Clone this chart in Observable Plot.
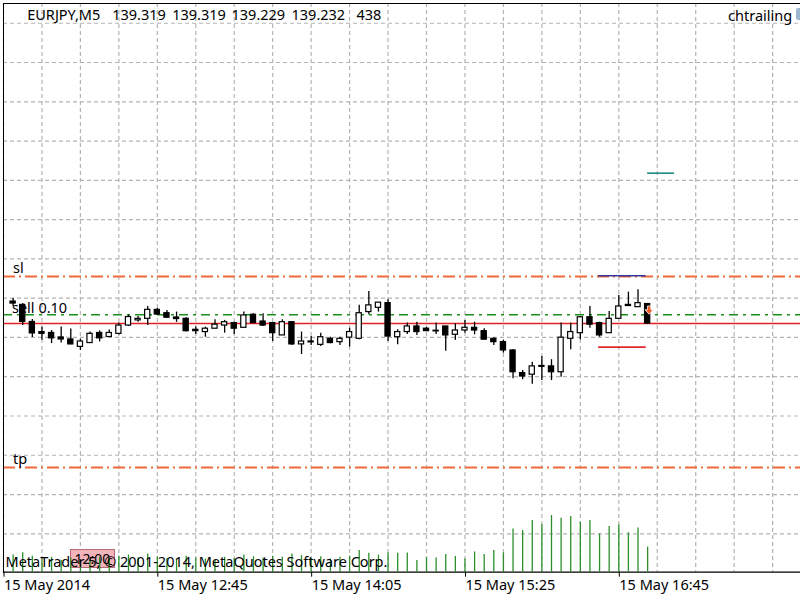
<!DOCTYPE html>
<html><head><meta charset="utf-8">
<script src="https://cdn.jsdelivr.net/npm/d3@7"></script>
<script src="https://cdn.jsdelivr.net/npm/@observablehq/plot@0.6"></script>
<style>
body{margin:0;background:#fff;}
#wrap{position:relative;width:800px;height:600px;overflow:hidden;font-family:"Noto Sans",sans-serif;}
#wrap svg{position:absolute;left:0;top:0;}
#lbl1200{position:absolute;left:70px;top:549px;width:43px;height:17px;background:#f3b3bb;border:1px solid #b86a74;font-size:14px;line-height:17px;text-align:center;color:#000;}
#icon{position:absolute;left:796px;top:8px;width:6px;height:12px;background:#9fb6d0;border-radius:2px;}
</style></head><body><div id="wrap"></div>
<script>
// ---- data ----
const symbol = "EURJPY", timeframe = "M5";
const lastBarText = ["139.319", "139.319", "139.229", "139.232", "438"];
const open = [139.330,139.315,139.239,139.194,139.190,139.170,139.161,139.128,139.145,139.190,
 139.172,139.186,139.223,139.246,139.253,139.293,139.278,139.259,139.253,139.204,
 139.194,139.209,139.223,139.234,139.213,139.271,139.241,139.234,139.179,139.238,
 139.139,139.152,139.137,139.164,139.149,139.169,139.164,139.283,139.302,139.323,
 139.171,139.194,139.219,139.209,139.200,139.219,139.182,139.201,139.213,139.198,
 139.164,139.149,139.112,139.011,139.004,139.043,139.041,139.015,139.164,139.189,
 139.260,139.234,139.189,139.253,139.315,139.305,139.319];
const high = [139.344,139.321,139.250,139.215,139.201,139.217,139.208,139.163,139.194,139.199,
 139.203,139.234,139.270,139.263,139.308,139.299,139.290,139.283,139.258,139.216,
 139.216,139.249,139.246,139.238,139.283,139.276,139.276,139.234,139.249,139.241,
 139.194,139.174,139.189,139.171,139.171,139.211,139.313,139.375,139.325,139.338,
 139.204,139.234,139.238,139.215,139.234,139.219,139.231,139.246,139.238,139.209,
 139.169,139.157,139.115,139.023,139.060,139.085,139.071,139.234,139.234,139.263,
 139.308,139.238,139.286,139.357,139.372,139.382,139.319];
const low = [139.308,139.223,139.170,139.157,139.143,139.145,139.137,139.112,139.143,139.150,
 139.172,139.181,139.219,139.238,139.223,139.268,139.255,139.237,139.194,139.183,
 139.171,139.209,139.189,139.183,139.213,139.234,139.219,139.152,139.179,139.134,
 139.094,139.134,139.130,139.142,139.134,139.127,139.160,139.271,139.283,139.152,
 139.137,139.183,139.179,139.198,139.183,139.109,139.157,139.189,139.182,139.160,
 139.134,139.100,138.986,138.981,138.961,138.978,138.978,138.993,139.115,139.160,
 139.211,139.171,139.189,139.253,139.308,139.305,139.229];
const close = [139.321,139.239,139.188,139.186,139.166,139.161,139.139,139.152,139.186,139.166,
 139.190,139.223,139.261,139.253,139.293,139.272,139.258,139.252,139.198,139.198,
 139.209,139.227,139.238,139.209,139.268,139.234,139.223,139.189,139.238,139.139,
 139.152,139.148,139.171,139.145,139.164,139.194,139.278,139.313,139.325,139.174,
 139.194,139.219,139.194,139.198,139.197,139.179,139.201,139.213,139.201,139.160,
 139.149,139.112,139.015,138.996,139.041,139.039,139.015,139.169,139.194,139.260,
 139.227,139.179,139.253,139.308,139.310,139.323,139.232];
const volume = [300,340,280,230,260,210,250,200,230,260,
 240,280,300,250,320,260,240,220,280,250,
 230,210,260,240,300,270,250,280,260,320,
 290,250,270,230,260,280,380,330,300,340,
 330,338,205,250,250,310,275,233,355,310,
 380,338,758,730,905,835,992,945,975,875,
 905,670,800,828,688,775,438];
const tickBars = [-1,15,31,47,63];
const tickLabels = ["15 May 2014","15 May 12:45","15 May 14:05","15 May 15:25","15 May 16:45"];
const gridBars = [-1,3,7,11,15,19,23,27,31,35,39,43,47,51,55,59,63,67,71,75,79];
const gridPrices = [138.295,138.470,138.645,138.820,138.995,139.170,139.345,139.520,139.695,139.870,140.045,140.220,140.395,140.570];
const priceRange = [138.124, 140.658];
const barRange = [-1, 81.9];
const slPrice = 139.442, tpPrice = 138.591, positionPrice = 139.271, bidPrice = 139.232;
const positionLabel = "sell 0.10";
const segments = [
  {x1: 60.9, x2: 65.85, price: 139.445, color: "#35359a"},
  {x1: 60.9, x2: 65.85, price: 139.127, color: "#e02828"},
  {x1: 66.0, x2: 68.8, price: 139.902, color: "#1f8a80"}
];
const sellDeal = {bar: 66, price: 139.271};
const indicatorName = "chtrailing";
const copyright = "MetaTrader 5, © 2001-2014, MetaQuotes Software Corp.";
const markerTime = "12:00";

// ---- build ----
const bars = open.map((o, i) => ({i, o, h: high[i], l: low[i], c: close[i], up: close[i] >= o}));
const vols = volume.map((v, i) => ({i, v}));
const headerWords = [`${symbol},${timeframe}`, ...lastBarText];
const headerOffsets = [23.7, 108.7, 168.7, 228, 288, 353];

const arrowDown = {
  draw(ctx) {
    ctx.moveTo(-1.7, -4.6); ctx.lineTo(1.7, -4.6); ctx.lineTo(1.7, -0.8);
    ctx.lineTo(4.2, -0.8); ctx.lineTo(0, 3.6); ctx.lineTo(-4.2, -0.8);
    ctx.lineTo(-1.7, -0.8); ctx.closePath();
  }
};

const common = {
  width: 800, height: 600,
  marginLeft: 3, marginRight: 0, marginTop: 3, marginBottom: 28.3,
  x: {domain: barRange, axis: null},
};
const font = {fontFamily: "Noto Sans", fontSize: "14.5px", color: "#000"};

const main = Plot.plot({
  ...common,
  y: {domain: priceRange, axis: null},
  style: {...font, background: "#fff", overflow: "visible"},
  marks: [
    Plot.ruleX(gridBars, {x: d => d, stroke: "#b4b4b4", strokeDasharray: "4,3", strokeWidth: 1.2}),
    Plot.ruleY(gridPrices, {y: d => d, stroke: "#b4b4b4", strokeDasharray: "4,3", strokeWidth: 1.2}),
    Plot.ruleY([slPrice, tpPrice], {y: d => d, stroke: "#ef6a3a", strokeWidth: 2, strokeDasharray: "12,4,2,4"}),
    Plot.ruleY([positionPrice], {y: d => d, stroke: "#1a901a", strokeWidth: 1.4, strokeDasharray: "9,5,3,5"}),
    Plot.ruleY([bidPrice], {y: d => d, stroke: "#e62020", strokeWidth: 1.4}),
    Plot.ruleY(segments, {x1: "x1", x2: "x2", y: "price", stroke: "color", strokeWidth: 1.6}),
    Plot.text([{t: "sl", p: slPrice}, {t: "tp", p: tpPrice}], {x: barRange[0], y: "p", text: "t", dx: 9.5, dy: -3, textAnchor: "start", lineAnchor: "bottom", fill: "#000"}),
    Plot.text([positionLabel], {x: barRange[0], y: positionPrice, dx: 8.5, dy: -2, textAnchor: "start", lineAnchor: "bottom", fill: "#000"}),
    Plot.ruleX(bars, {x: "i", y1: "l", y2: "h", stroke: "#000", strokeWidth: 1.3}),
    Plot.rect(bars, {x1: d => d.i - 0.27, x2: d => d.i + 0.27, y1: "o", y2: "c", fill: d => d.up ? "#fff" : "#000", stroke: "#000", strokeWidth: 1.2}),
    Plot.dot([sellDeal], {x: "bar", y: "price", symbol: arrowDown, r: 5, fill: "#f05a1e", stroke: "#fff", strokeWidth: 0.8, dx: 1.5, dy: -4.2}),
    Plot.frame({anchor: "left", stroke: "#000"}),
    Plot.frame({anchor: "top", stroke: "#000"}),
    Plot.frame({anchor: "bottom", stroke: "#000", strokeWidth: 1.3}),
    Plot.axisX(tickBars, {tickFormat: d => tickLabels[tickBars.indexOf(d)], textAnchor: "start", tickSize: 5, tickPadding: 3, label: null, dx: 0.5, stroke: "#000", fill: "#000"}),
    ...headerWords.map((w, k) => Plot.text([w], {frameAnchor: "top-left", dx: headerOffsets[k], dy: 16.3, textAnchor: "start", lineAnchor: "bottom", fill: "#000"})),
    Plot.text([indicatorName], {frameAnchor: "top-right", dx: -8.3, dy: 17, textAnchor: "end", lineAnchor: "bottom", fill: "#000"})
  ]
});

const volPlot = Plot.plot({
  ...common,
  y: {domain: [0, 1000], range: [571.7, 514.6], axis: null},
  style: {...font, background: "transparent", overflow: "visible"},
  marks: [
    Plot.ruleX(vols, {x: "i", y1: 0, y2: "v", stroke: "#2c8f2c", strokeWidth: 1.3}),
    Plot.text([copyright], {frameAnchor: "bottom-left", dx: 2, dy: -5, textAnchor: "start", lineAnchor: "bottom", fill: "#000"})
  ]
});

const wrap = document.getElementById("wrap");
wrap.appendChild(main);
const lbl = document.createElement("div");
lbl.id = "lbl1200"; lbl.textContent = markerTime;
wrap.appendChild(lbl);
wrap.appendChild(volPlot);
const icon = document.createElement("div");
icon.id = "icon";
wrap.appendChild(icon);
</script></body></html>
